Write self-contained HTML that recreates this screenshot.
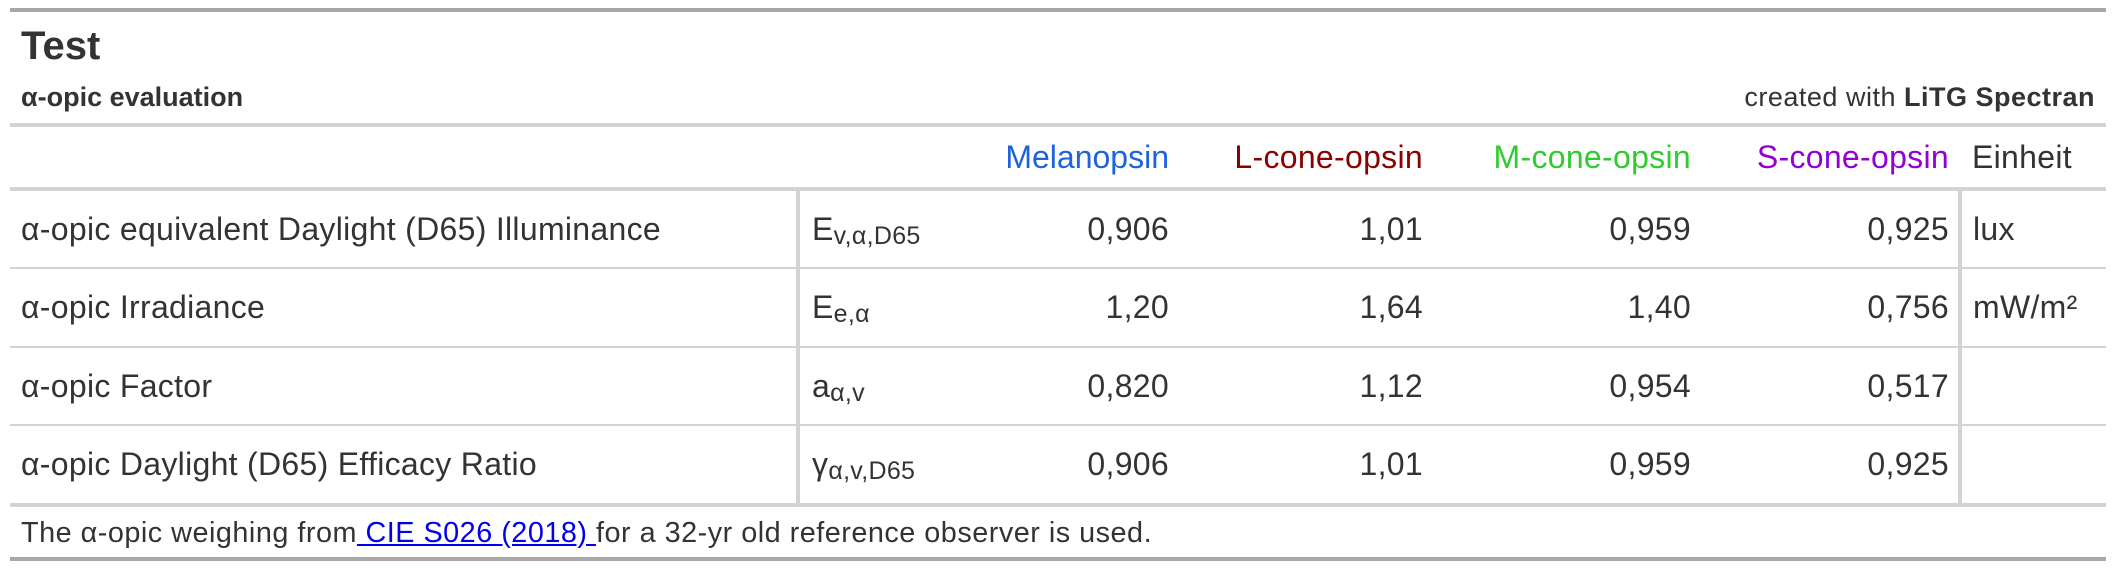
<!DOCTYPE html>
<html>
<head>
<meta charset="utf-8">
<style>
  html, body { margin:0; padding:0; }
  body { width:2116px; height:568px; background:#fff; position:relative; overflow:hidden;
         font-family:"Liberation Sans", "DejaVu Sans", sans-serif; color:#333333; }
  .ln { position:absolute; left:10px; width:2096px; background:#d3d3d3; }
  .vl { position:absolute; top:191px; height:312px; width:4px; background:#d3d3d3; }
  .row { position:absolute; display:flex; align-items:center; white-space:nowrap; font-size:32px; letter-spacing:0.3px; }
  .l { justify-content:flex-start; }
  .r { justify-content:flex-end; }
  .sub { font-size:25px; position:relative; top:7px; letter-spacing:0.3px; }
</style>
</head>
<body>
  <!-- borders -->
  <div class="ln" style="top:8px;height:4px;background:#a8a8a8;"></div>
  <div class="ln" style="top:123px;height:4px;"></div>
  <div class="ln" style="top:187px;height:4px;"></div>
  <div class="ln" style="top:267px;height:2px;"></div>
  <div class="ln" style="top:346px;height:2px;"></div>
  <div class="ln" style="top:424px;height:2px;"></div>
  <div class="ln" style="top:503px;height:4px;"></div>
  <div class="ln" style="top:557px;height:4px;background:#a8a8a8;"></div>
  <div class="vl" style="left:796px;"></div>
  <div class="vl" style="left:1958px;"></div>

  <!-- title -->
  <div class="row l" style="left:21px;top:26px;height:40px;font-size:40px;font-weight:bold;letter-spacing:0;">Test</div>
  <div class="row l" style="left:21px;top:80px;height:35px;font-size:27px;font-weight:bold;letter-spacing:0;">α-opic evaluation</div>
  <div class="row r" style="right:21px;top:80px;height:35px;font-size:27px;letter-spacing:0.5px;">created with&nbsp;<b>LiTG Spectran</b></div>

  <!-- column headers -->
  <div class="row r" style="right:947px;top:127px;height:60px;color:#1d63e0;letter-spacing:0;">Melanopsin</div>
  <div class="row r" style="right:693px;top:127px;height:60px;color:#8b0000;">L-cone-opsin</div>
  <div class="row r" style="right:425px;top:127px;height:60px;color:#2ecc2e;">M-cone-opsin</div>
  <div class="row r" style="right:167px;top:127px;height:60px;color:#9400d3;">S-cone-opsin</div>
  <div class="row l" style="left:1972px;top:127px;height:60px;">Einheit</div>

  <!-- row 1 -->
  <div class="row l" style="left:21px;top:191px;height:76px;">α-opic equivalent Daylight (D65) Illuminance</div>
  <div class="row l" style="left:812px;top:191px;height:76px;">E<span class="sub">v,α,D65</span></div>
  <div class="row r" style="right:947px;top:191px;height:76px;">0,906</div>
  <div class="row r" style="right:693px;top:191px;height:76px;">1,01</div>
  <div class="row r" style="right:425px;top:191px;height:76px;">0,959</div>
  <div class="row r" style="right:167px;top:191px;height:76px;">0,925</div>
  <div class="row l" style="left:1973px;top:191px;height:76px;">lux</div>

  <!-- row 2 -->
  <div class="row l" style="left:21px;top:269px;height:77px;">α-opic Irradiance</div>
  <div class="row l" style="left:812px;top:269px;height:77px;">E<span class="sub">e,α</span></div>
  <div class="row r" style="right:947px;top:269px;height:77px;">1,20</div>
  <div class="row r" style="right:693px;top:269px;height:77px;">1,64</div>
  <div class="row r" style="right:425px;top:269px;height:77px;">1,40</div>
  <div class="row r" style="right:167px;top:269px;height:77px;">0,756</div>
  <div class="row l" style="left:1973px;top:269px;height:77px;">mW/m²</div>

  <!-- row 3 -->
  <div class="row l" style="left:21px;top:348px;height:76px;">α-opic Factor</div>
  <div class="row l" style="left:812px;top:348px;height:76px;">a<span class="sub">α,v</span></div>
  <div class="row r" style="right:947px;top:348px;height:76px;">0,820</div>
  <div class="row r" style="right:693px;top:348px;height:76px;">1,12</div>
  <div class="row r" style="right:425px;top:348px;height:76px;">0,954</div>
  <div class="row r" style="right:167px;top:348px;height:76px;">0,517</div>

  <!-- row 4 -->
  <div class="row l" style="left:21px;top:426px;height:77px;">α-opic Daylight (D65) Efficacy Ratio</div>
  <div class="row l" style="left:812px;top:426px;height:77px;">γ<span class="sub">α,v,D65</span></div>
  <div class="row r" style="right:947px;top:426px;height:77px;">0,906</div>
  <div class="row r" style="right:693px;top:426px;height:77px;">1,01</div>
  <div class="row r" style="right:425px;top:426px;height:77px;">0,959</div>
  <div class="row r" style="right:167px;top:426px;height:77px;">0,925</div>

  <!-- footnote -->
  <div class="row l" style="left:21px;top:508px;height:50px;font-size:28.8px;letter-spacing:0.5px;white-space:pre;">The α-opic weighing from<span style="color:#0000ee;text-decoration:underline;"> CIE S026 (2018) </span>for a 32-yr old reference observer is used.</div>
</body>
</html>
